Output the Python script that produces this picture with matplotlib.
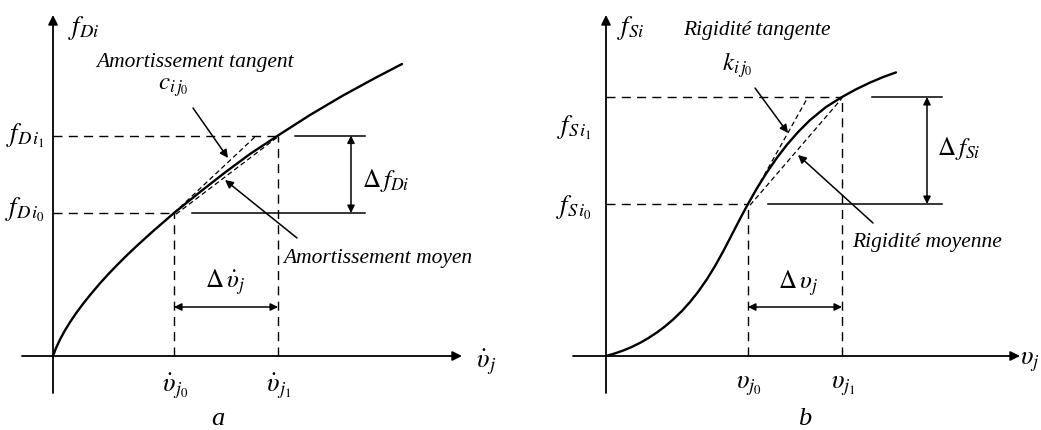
import matplotlib
matplotlib.use("Agg")
import matplotlib.pyplot as plt

plt.rcParams['mathtext.fontset'] = 'stix'
plt.rcParams['font.family'] = ['Liberation Serif', 'DejaVu Serif']

# ---- panel a: damping force vs velocity (concave curve) ----
vel = [0, 3, 7, 12, 17, 23, 30, 38, 47, 56, 65, 75, 84, 100, 121, 147, 172, 197, 225, 257, 290, 324, 349]
f_damp = [0, 7.9, 16.5, 25.7, 33.8, 42.7, 52.1, 62.1, 72.7, 82.6, 91.9, 101.8, 110.3, 124.8, 143,
          164, 183.5, 202, 220.5, 241, 260.5, 279, 292]
v_a = [121, 225]           # velocities of the two states
fD = [143, 220.5]          # damping force at the two states
tangent_a_end = (204, 221)

# ---- panel b: spring force vs displacement (S-shaped curve) ----
disp = [0, 8, 17, 25, 34, 42, 51, 59, 67, 76, 84, 92, 101, 109, 117, 124, 130, 136, 142,
        151, 161, 171, 181, 192, 204, 220, 236, 250, 264, 277, 290]
f_spring = [0, 2.3, 5.4, 8.7, 13.1, 17.7, 23.6, 29.6, 36.4, 45.1, 54.0, 64.0, 76.9, 89.9, 104.3, 117.7, 129.4, 140.9, 152,
            167.8, 183.8, 198.3, 211.3, 223.9, 235.9, 249, 259, 266.7, 273.4, 278.9, 283.6]
u_b = [142, 236]
fS = [152, 259]
tangent_b_end = (202, 259)

fig = plt.figure(figsize=(10.41, 4.30), dpi=100)
axA = fig.add_axes([0, 0, 520 / 1041, 1])
axB = fig.add_axes([520 / 1041, 0, 521 / 1041, 1])
axA.set_xlim(-53, 467); axA.set_ylim(-74, 356)
axB.set_xlim(-86, 435); axB.set_ylim(-74, 356)
for ax in (axA, axB):
    ax.axis('off')

K = 'black'
DASH = (0, (6.5, 4.5))
TXT = dict(fontsize=15.5, style='italic', family='Liberation Serif')
MATH = 19
SMALL = 18


def arrow(ax, start, end, style='-|>', lw=1.1, ms=12):
    ax.annotate('', xy=end, xytext=start,
                arrowprops=dict(arrowstyle=style, lw=lw, color=K, mutation_scale=ms,
                                shrinkA=0, shrinkB=0))


def panel(ax, xs, ys, x01, y01, tan_end, yax_bottom, xax):
    # axes with arrow heads
    arrow(ax, (0, yax_bottom), (0, 341), lw=1.3, ms=14)
    arrow(ax, (xax[0], 0), (xax[1], 0), lw=1.3, ms=14)
    # response curve
    ax.plot(xs, ys, color=K, lw=1.7, solid_capstyle='round', solid_joinstyle='round')
    x0, x1 = x01
    y0, y1 = y01
    # guide lines
    ax.plot([0, x1], [y1, y1], color=K, lw=1.0, ls=DASH)
    ax.plot([0, x0], [y0, y0], color=K, lw=1.0, ls=DASH)
    ax.plot([x0, x0], [0, y0], color=K, lw=1.0, ls=DASH)
    ax.plot([x1, x1], [0, y1], color=K, lw=1.0, ls=DASH)
    # tangent and secant
    ax.plot([x0, tan_end[0]], [y0, tan_end[1]], color=K, lw=0.9, ls=(0, (4, 2.5)))
    ax.plot([x0 + 2, x1], [y0 - 1.2, y1 - 1.2], color=K, lw=0.9, ls=(0, (4, 2.5)))


# ---------- panel a ----------
panel(axA, vel, f_damp, v_a, fD, tangent_a_end, -37, (-31, 409))
axA.plot([242, 312], [fD[1], fD[1]], color=K, lw=1.1)
axA.plot([139, 312], [fD[0], fD[0]], color=K, lw=1.1)
arrow(axA, (298, fD[0]), (298, fD[1]), style='<|-|>', lw=1.1, ms=11)
arrow(axA, (v_a[0], 49), (v_a[1], 49), style='<|-|>', lw=1.1, ms=11)

axA.text(15, 328, r'$f_{Di}$', fontsize=MATH, ha='left', va='center')
axA.text(-8, 220, r'$f_{D\,i_1}$', fontsize=MATH, ha='right', va='center')
axA.text(-8, 146, r'$f_{D\,i_0}$', fontsize=MATH, ha='right', va='center')
axA.text(v_a[0] + 1, -30, r'$\dot{\upsilon}_{j_0}$', fontsize=MATH, ha='center', va='center')
axA.text(v_a[1] + 1, -30, r'$\dot{\upsilon}_{j_1}$', fontsize=MATH, ha='center', va='center')
axA.text(433, -6, r'$\dot{\upsilon}_{j}$', fontsize=MATH, ha='center', va='center')
axA.text(309, 176, r'$\Delta\, f_{Di}$', fontsize=SMALL, ha='left', va='center')
axA.text(172, 74, r'$\Delta\,\dot{\upsilon}_{j}$', fontsize=SMALL, ha='center', va='center')
axA.text(142, 294, 'Amortissement tangent', ha='center', va='center', **TXT)
axA.text(120, 268, r'$c_{i\,j_0}$', fontsize=SMALL, ha='center', va='center')
arrow(axA, (140, 248), (175, 198))
axA.text(230, 98, 'Amortissement moyen', ha='left', va='center', **TXT)
arrow(axA, (244, 118), (172, 176))
axA.text(165, -63, 'a', ha='center', va='center', **dict(TXT, fontsize=19))

# ---------- panel b ----------
panel(axB, disp, f_spring, u_b, fS, tangent_b_end, -37, (-33, 414))
axB.plot([266, 336], [fS[1], fS[1]], color=K, lw=1.1)
axB.plot([162, 336], [fS[0], fS[0]], color=K, lw=1.1)
arrow(axB, (321, fS[0]), (321, fS[1]), style='<|-|>', lw=1.1, ms=11)
arrow(axB, (u_b[0], 49), (u_b[1], 49), style='<|-|>', lw=1.1, ms=11)

axB.text(11, 328, r'$f_{Si}$', fontsize=MATH, ha='left', va='center')
axB.text(-14, 228, r'$f_{S\,i_1}$', fontsize=MATH, ha='right', va='center')
axB.text(-14, 148, r'$f_{S\,i_0}$', fontsize=MATH, ha='right', va='center')
axB.text(u_b[0] + 1, -30, r'$\upsilon_{j_0}$', fontsize=MATH, ha='center', va='center')
axB.text(u_b[1] + 1, -30, r'$\upsilon_{j_1}$', fontsize=MATH, ha='center', va='center')
axB.text(424, -6, r'$\upsilon_{j}$', fontsize=MATH, ha='center', va='center')
axB.text(331, 208, r'$\Delta\, f_{Si}$', fontsize=SMALL, ha='left', va='center')
axB.text(192, 73, r'$\Delta\,\upsilon_{j}$', fontsize=SMALL, ha='center', va='center')
axB.text(151, 326, 'Rigidité tangente', ha='center', va='center', **TXT)
axB.text(131, 291, r'$k_{i\,j_0}$', fontsize=SMALL, ha='center', va='center')
arrow(axB, (149, 268), (182, 223))
axB.text(246, 113, 'Rigidité moyenne', ha='left', va='center', **TXT)
arrow(axB, (267, 133), (192, 201))
axB.text(199, -63, 'b', ha='center', va='center', **dict(TXT, fontsize=19))

fig.savefig('out.png', dpi=100, facecolor='white')
